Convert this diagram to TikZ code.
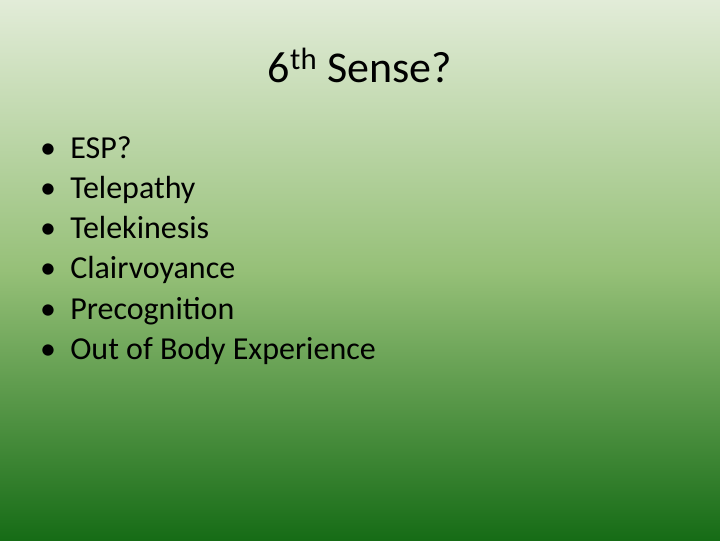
\documentclass[tikz,border=0pt]{standalone}
\usepackage{fontspec}
\setmainfont{Carlito}
\definecolor{topc}{RGB}{226,236,216}
\definecolor{midc}{RGB}{150,192,120}
\definecolor{botc}{RGB}{22,108,22}
\begin{document}
\begin{tikzpicture}[x=0.75pt,y=-0.75pt,
  item/.style={anchor=base west,font=\fontsize{24}{28}\selectfont,text=black,inner sep=0},
  dot/.style={anchor=base,font=\fontsize{24}{28}\selectfont,inner sep=0}]
\shade[top color=topc,bottom color=midc] (0,0) rectangle (720,270);
\shade[top color=midc,bottom color=botc] (0,270) rectangle (720,540);
\useasboundingbox (0,0) rectangle (720,540);
\node[anchor=base,inner sep=0,font=\fontsize{33}{38}\selectfont] (title) at (360,82) {6\textsuperscript{th} Sense?};
\foreach \t [count=\i] in {ESP?,Telepathy,Telekinesis,Clairvoyance,Precognition,Out of Body Experience}{
  \node[dot] (b\i) at (48,118+40.2*\i) {•};
  \node[item] (t\i) at (70,118+40.2*\i) {\t};
}
\end{tikzpicture}
\end{document}
